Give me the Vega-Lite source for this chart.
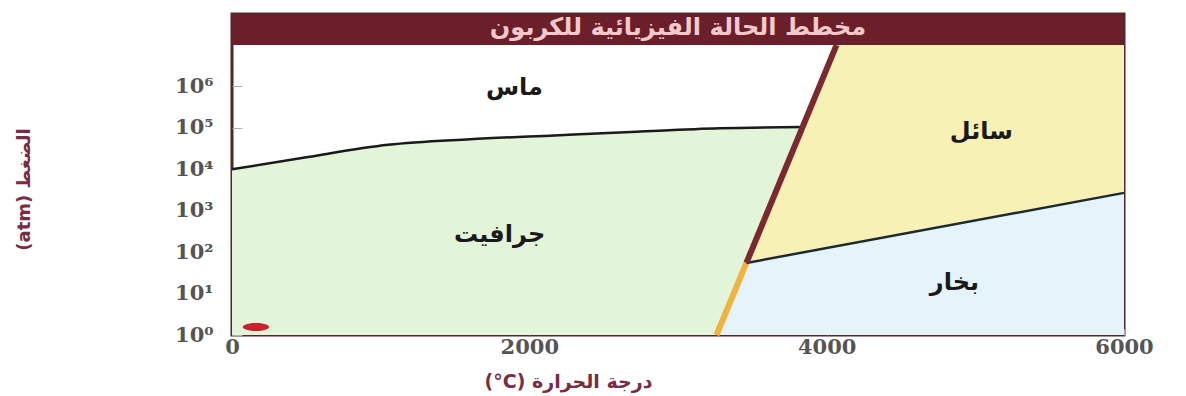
{
  "$schema": "https://vega.github.io/schema/vega-lite/v6.json",
  "autosize": "none",
  "width": 892,
  "height": 321,
  "padding": {"left": 232, "top": 14, "right": 62, "bottom": 61},
  "background": "white",
  "config": {
    "view": {"stroke": "#4e2a2c", "strokeWidth": 3},
    "font": "DejaVu Sans"
  },
  "datasets": {
    "regions": [
      {"region": "graphite", "T": 0, "P": 10000, "P2": 1},
      {"region": "graphite", "T": 480, "P": 19000, "P2": 1},
      {"region": "graphite", "T": 1050, "P": 39000, "P2": 1},
      {"region": "graphite", "T": 1600, "P": 53000, "P2": 1},
      {"region": "graphite", "T": 2170, "P": 66000, "P2": 1},
      {"region": "graphite", "T": 2720, "P": 81000, "P2": 1},
      {"region": "graphite", "T": 3259, "P": 96000, "P2": 1},
      {"region": "graphite", "T": 3838, "P": 105000, "P2": 105000},
      {"region": "liquid", "T": 3460, "P": 55, "P2": 55},
      {"region": "liquid", "T": 4066, "P": 10000000, "P2": 139},
      {"region": "liquid", "T": 6000, "P": 10000000, "P2": 2700},
      {"region": "vapor", "T": 3259, "P": 1, "P2": 1},
      {"region": "vapor", "T": 3460, "P": 55, "P2": 1},
      {"region": "vapor", "T": 6000, "P": 2700, "P2": 1}
    ],
    "diamondLine": [
      {"T": 0, "P": 10000},
      {"T": 480, "P": 19000},
      {"T": 1050, "P": 39000},
      {"T": 1600, "P": 53000},
      {"T": 2170, "P": 66000},
      {"T": 2720, "P": 81000},
      {"T": 3280, "P": 98000},
      {"T": 3838, "P": 105000}
    ],
    "meltLine": [
      {"T": 3460, "P": 55},
      {"T": 4066, "P": 10000000}
    ],
    "sublimationLine": [
      {"T": 3259, "P": 1},
      {"T": 3460, "P": 55}
    ],
    "vaporLine": [
      {"T": 3460, "P": 55},
      {"T": 6000, "P": 2700}
    ],
    "labels": [
      {"T": 1900, "P": 930000, "text": "ماس"},
      {"T": 1800, "P": 260, "text": "جرافيت"},
      {"T": 5040, "P": 80000, "text": "سائل"},
      {"T": 4859, "P": 18, "text": "بخار"}
    ],
    "band": [
      {"T": 0, "T2": 6000, "P": 10000000, "P2": 56234132, "Tc": 3000, "Pc": 26000000, "text": "مخطط الحالة الفيزيائية للكربون"}
    ],
    "marker": [
      {"T": 161, "P": 1.56}
    ]
  },
  "encoding": {
    "x": {
      "field": "T", "type": "quantitative",
      "scale": {"domain": [0, 6000], "nice": false, "zero": false},
      "axis": {
        "values": [0, 2000, 4000, 6000],
        "format": "d",
        "title": "(°C) درجة الحرارة",
        "titleFont": "DejaVu Sans", "titleFontSize": 19, "titleFontWeight": "bold",
        "titleColor": "#7a2c42", "titleX": 336, "titleY": 46, "titleBaseline": "middle",
        "labelFont": "DejaVu Serif", "labelFontSize": 21, "labelFontWeight": "bold",
        "labelColor": "#555555", "labelPadding": 7, "labelFlush": false,
        "domain": false, "grid": false, "ticks": true, "tickSize": -6, "tickColor": "#aaaaaa"
      }
    },
    "y": {
      "field": "P", "type": "quantitative",
      "scale": {"type": "log", "domain": [1, 56234132], "nice": false},
      "axis": {
        "values": [1, 10, 100, 1000, 10000, 100000, 1000000],
        "labelExpr": "'10' + ['⁰','¹','²','³','⁴','⁵','⁶'][round(log(datum.value)/LN10)]",
        "title": "(atm) الضغط",
        "titleFont": "DejaVu Sans", "titleFontSize": 18, "titleFontWeight": "bold",
        "titleColor": "#7a2c42", "titleX": -208, "titleY": 175, "titleAngle": -90,
        "titleAlign": "center", "titleBaseline": "middle",
        "labelFont": "DejaVu Serif", "labelFontSize": 21, "labelFontWeight": "bold",
        "labelColor": "#555555", "labelPadding": 29, "labelFlush": false,
        "domain": false, "grid": false, "ticks": true, "tickSize": -10, "tickColor": "#b0b0b0"
      }
    }
  },
  "layer": [
    {
      "data": {"name": "regions"},
      "mark": {"type": "area", "opacity": 1, "interpolate": "linear"},
      "encoding": {
        "y2": {"field": "P2"},
        "color": {
          "field": "region", "type": "nominal",
          "scale": {"domain": ["graphite", "liquid", "vapor"], "range": ["#e2f5d9", "#f8f1b6", "#e5f4fa"]},
          "legend": null
        }
      }
    },
    {
      "data": {"name": "sublimationLine"},
      "mark": {"type": "line", "color": "#efb43f", "strokeWidth": 6},
      "encoding": {}
    },
    {
      "data": {"name": "vaporLine"},
      "mark": {"type": "line", "color": "#1f2a30", "strokeWidth": 2.5},
      "encoding": {}
    },
    {
      "data": {"name": "diamondLine"},
      "mark": {"type": "line", "color": "#1a1a1a", "strokeWidth": 2.5, "interpolate": "monotone"},
      "encoding": {}
    },
    {
      "data": {"name": "meltLine"},
      "mark": {"type": "line", "color": "#7a2a2e", "strokeWidth": 6},
      "encoding": {}
    },
    {
      "data": {"name": "marker"},
      "mark": {"type": "point", "filled": true, "color": "#c9222c", "size": 700, "opacity": 1, "shape": "M -1 0 A 1 0.3 0 1 0 1 0 A 1 0.3 0 1 0 -1 0 Z"},
      "encoding": {}
    },
    {
      "data": {"name": "labels"},
      "mark": {"type": "text", "font": "DejaVu Sans", "fontSize": 24, "fontWeight": "bold", "color": "#1a1a1a", "align": "center", "baseline": "middle"},
      "encoding": {"text": {"field": "text"}}
    },
    {
      "data": {"name": "band"},
      "mark": {"type": "rect", "color": "#6b1f2a"},
      "encoding": {
        "x": {"field": "T", "type": "quantitative"},
        "x2": {"field": "T2"},
        "y": {"field": "P", "type": "quantitative"},
        "y2": {"field": "P2"}
      }
    },
    {
      "data": {"name": "band"},
      "mark": {"type": "text", "font": "DejaVu Sans", "fontSize": 24, "fontWeight": "bold", "color": "#f3c9cc", "align": "center", "baseline": "middle"},
      "encoding": {
        "x": {"field": "Tc", "type": "quantitative"},
        "y": {"field": "Pc", "type": "quantitative"},
        "text": {"field": "text"}
      }
    }
  ]
}
